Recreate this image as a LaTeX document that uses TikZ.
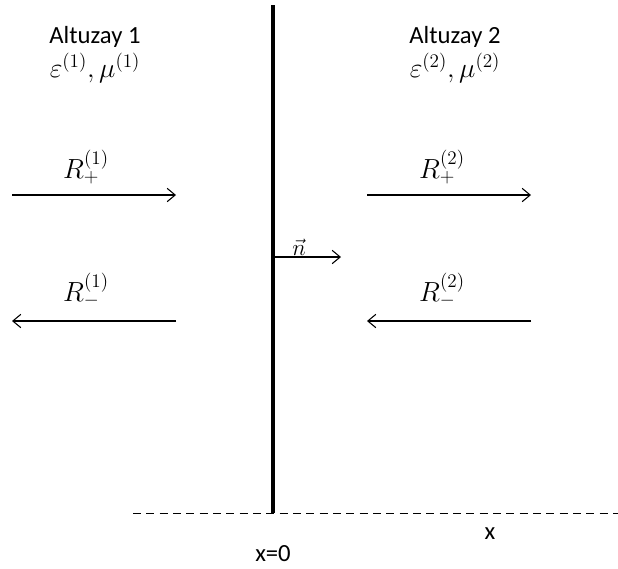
\documentclass[tikz,border=0pt]{standalone}
\usepackage{fontspec}
\setmainfont{Carlito}
\usetikzlibrary{arrows.meta,positioning}

\begin{document}
\begin{tikzpicture}[x=0.75pt,y=-0.75pt,font=\fontsize{18.5}{22}\selectfont,inner sep=1pt,
    wave/.style={-{Straight Barb[length=6pt,width=10pt]},line width=0.8pt},
    mathlab/.style={font=\fontsize{22}{25}\selectfont}]
    \useasboundingbox (0,0) rectangle (618,568);

    % interface and axis
    \coordinate (top) at (273,5);
    \coordinate (origin) at (273,513);
    \coordinate (axisL) at (133,513);
    \coordinate (axisR) at (618,513);
    \draw[line width=3pt] (top) -- (origin);
    \draw[dash pattern=on 6pt off 4pt,line width=0.7pt] (axisL) -- (axisR);
    \node (x0) at (273,554) {x=0};
    \node (xlab) at (490,534) {x};

    % media
    \node (m1) at (95,37) {Altuzay 1};
    \node[mathlab] (e1) at (95,68) {$\varepsilon^{(1)},\mu^{(1)}$};
    \node (m2) at (455,37) {Altuzay 2};
    \node[mathlab] (e2) at (455,68) {$\varepsilon^{(2)},\mu^{(2)}$};

    % waves
    \coordinate (a1) at (12,195);
    \coordinate (b1) at (176,195);
    \coordinate (a2) at (367,195);
    \coordinate (b2) at (531,195);
    \coordinate (c1) at (12,321);
    \coordinate (d1) at (176,321);
    \coordinate (c2) at (367,321);
    \coordinate (d2) at (531,321);
    \draw[wave] (a1) -- (b1);
    \draw[wave] (a2) -- (b2);
    \draw[wave] (d1) -- (c1);
    \draw[wave] (d2) -- (c2);
    \node[mathlab] (rp1) at (86,167) {$R_{+}^{(1)}$};
    \node[mathlab] (rp2) at (442,167) {$R_{+}^{(2)}$};
    \node[mathlab] (rm1) at (86,290) {$R_{-}^{(1)}$};
    \node[mathlab] (rm2) at (442,290) {$R_{-}^{(2)}$};

    % normal
    \coordinate (n0) at (273,257);
    \coordinate (n1) at (341,257);
    \draw[wave] (n0) -- (n1);
    \node[font=\fontsize{17}{19}\selectfont] (nlab) at (299,247) {$\vec{n}$};
\end{tikzpicture}
\end{document}
